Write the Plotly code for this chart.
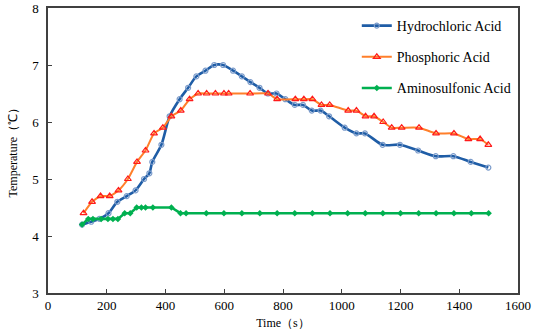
import plotly.graph_objects as go

# Hydrochloric Acid
hcl_t = [116, 147, 175, 206, 236, 268, 298, 327, 345, 355, 386, 414, 448, 477, 505, 536, 566, 596, 630, 660,
         689, 720, 749, 778, 808, 840, 868, 898, 928, 957, 1010, 1050, 1079, 1139, 1198, 1260, 1320, 1380, 1439, 1499]
hcl_v = [4.2, 4.25, 4.3, 4.4, 4.6, 4.7, 4.8, 5.0, 5.1, 5.3, 5.6, 6.1, 6.4, 6.6, 6.8, 6.9, 7.0, 7.0, 6.9, 6.8,
         6.7, 6.6, 6.5, 6.5, 6.4, 6.3, 6.3, 6.2, 6.2, 6.1, 5.9, 5.8, 5.8, 5.6, 5.6, 5.5, 5.4, 5.4, 5.3, 5.2]

# Phosphoric Acid
h3po4_t = [121, 150, 179, 210, 240, 272, 303, 332, 361, 391, 420, 452, 482, 511, 540, 570, 599, 615, 688,
           749, 780, 842, 871, 900, 931, 959, 1022, 1050, 1081, 1110, 1141, 1170, 1204, 1263, 1321, 1382,
           1431, 1471, 1499]
h3po4_v = [4.4, 4.6, 4.7, 4.7, 4.8, 5.0, 5.3, 5.5, 5.8, 5.9, 6.1, 6.2, 6.4, 6.5, 6.5, 6.5, 6.5, 6.5, 6.5,
           6.5, 6.4, 6.4, 6.4, 6.4, 6.3, 6.3, 6.2, 6.2, 6.1, 6.1, 6.0, 5.9, 5.9, 5.9, 5.8, 5.8,
           5.7, 5.7, 5.6]

# Aminosulfonic Acid
amino_t = [116, 137, 153, 181, 204, 221, 238, 261, 280, 302, 318, 332, 357, 420, 451, 470, 539, 599, 660,
           721, 780, 840, 900, 960, 1020, 1080, 1140, 1200, 1262, 1321, 1382, 1441, 1500]
amino_v = [4.2, 4.3, 4.3, 4.3, 4.3, 4.3, 4.3, 4.4, 4.4, 4.5, 4.5, 4.5, 4.5, 4.5, 4.4, 4.4, 4.4, 4.4, 4.4,
           4.4, 4.4, 4.4, 4.4, 4.4, 4.4, 4.4, 4.4, 4.4, 4.4, 4.4, 4.4, 4.4, 4.4]

x_ticks = [0, 200, 400, 600, 800, 1000, 1200, 1400, 1600]
y_ticks = [3, 4, 5, 6, 7, 8]

FONT = "Liberation Serif, Times New Roman, serif"

fig = go.Figure()
fig.add_trace(go.Scatter(
    x=hcl_t, y=hcl_v, name="Hydrochloric Acid", mode="lines+markers", legendgroup="a",
    line=dict(color="#1F5DA6", width=2.6, shape="spline", smoothing=0.8),
    marker=dict(symbol="circle-open", size=5, color="#7C9CCB", line=dict(width=1.2))))
fig.add_trace(go.Scatter(
    x=h3po4_t, y=h3po4_v, name="Phosphoric Acid", mode="lines+markers", legendgroup="b",
    line=dict(color="#FF7F2A", width=2, shape="spline", smoothing=0.5),
    marker=dict(symbol="triangle-up-open", size=6, color="#FF1A1A", line=dict(width=1.2))))
fig.add_trace(go.Scatter(
    x=amino_t, y=amino_v, name="Aminosulfonic Acid", mode="lines+markers", legendgroup="c",
    line=dict(color="#00B050", width=2.6),
    marker=dict(symbol="diamond", size=5, color="#00B050")))

fig.update_layout(
    width=533, height=334,
    margin=dict(l=48, r=15, t=8, b=41, autoexpand=False),
    paper_bgcolor="white", plot_bgcolor="white",
    font=dict(family=FONT, size=12, color="black"),
    showlegend=True,
    legend=dict(x=0.657, y=0.993, xanchor="left", yanchor="top",
                font=dict(family=FONT, size=14, color="black"), bgcolor="rgba(0,0,0,0)",
                tracegroupgap=10, itemwidth=30),
    xaxis=dict(range=[0, 1600], tickvals=x_ticks, ticks="inside", ticklen=4, tickwidth=1,
               tickcolor="#404040", showline=True, linecolor="#404040", linewidth=1.5, mirror=True,
               showgrid=False, zeroline=False, tickfont=dict(family=FONT, size=13), automargin=False,
               title=dict(text="Time（s）", font=dict(family=FONT, size=12), standoff=6)),
    yaxis=dict(range=[3, 8], tickvals=y_ticks, ticks="inside", ticklen=4, tickwidth=1,
               tickcolor="#404040", showline=True, linecolor="#404040", linewidth=1.5, mirror=True,
               showgrid=False, zeroline=False, tickfont=dict(family=FONT, size=13), automargin=False,
               ticklabelstandoff=5),
    annotations=[dict(text="Temperature（℃）", textangle=-90, xref="paper", yref="paper",
                      x=-36 / 470, y=0.5, xanchor="center", yanchor="middle", showarrow=False,
                      font=dict(family=FONT, size=12, color="black"))],
)

fig.write_html("out.html", post_script="document.body.style.margin='0';",
               config={"displayModeBar": False})
